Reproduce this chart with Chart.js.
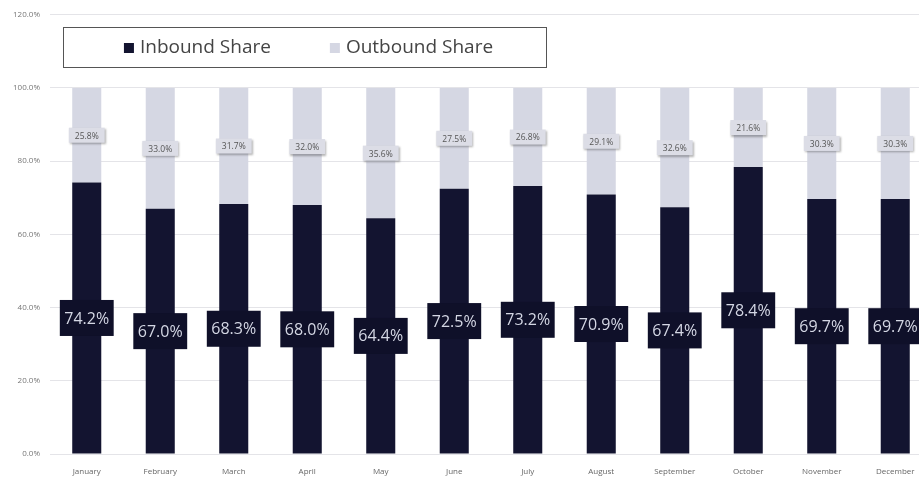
<!DOCTYPE html>
<html>
<head>
<meta charset="utf-8">
<script src="https://cdn.jsdelivr.net/npm/chart.js@4"></script>
<style>
  html, body { margin: 0; padding: 0; background: #fff; overflow: hidden; }
  #wrap { position: relative; width: 934px; height: 481px; }
</style>
</head>
<body>
<div id="wrap"><canvas id="chart"></canvas></div>
<script>
const months = ["January", "February", "March", "April", "May", "June",
  "July", "August", "September", "October", "November", "December"];
const inboundShare = [74.2, 67.0, 68.3, 68.0, 64.4, 72.5, 73.2, 70.9, 67.4, 78.4, 69.7, 69.7];
const outboundShare = [25.8, 33.0, 31.7, 32.0, 35.6, 27.5, 26.8, 29.1, 32.6, 21.6, 30.3, 30.3];
const yTicks = [0, 20, 40, 60, 80, 100, 120];

const NAVY = "#131430";
const LILAC = "#d5d7e3";
const FONT = "'Open Sans', 'Noto Sans', sans-serif";

// value boxes in the middle of each stacked segment
const segmentLabels = {
  id: "segmentLabels",
  afterDatasetsDraw(chart) {
    const ctx = chart.ctx;
    chart.data.datasets.forEach((ds, i) => {
      const meta = chart.getDatasetMeta(i);
      const dark = i === 0;
      meta.data.forEach((bar, j) => {
        const text = ds.data[j].toFixed(1) + "%";
        const cy = (bar.y + bar.base) / 2;
        ctx.save();
        ctx.font = (dark ? "16px " : "8.5px ") + FONT;
        const w = ctx.measureText(text).width + (dark ? 9 : 12);
        const h = dark ? 36 : 15;
        if (dark) {
          ctx.fillStyle = "#0f1029";
        } else {
          ctx.shadowColor = "rgba(0,0,0,0.3)";
          ctx.shadowBlur = 2;
          ctx.shadowOffsetX = 1;
          ctx.shadowOffsetY = 1.5;
          ctx.fillStyle = "#dcdde6";
        }
        ctx.fillRect(bar.x - w / 2, cy - h / 2, w, h);
        ctx.shadowColor = "transparent";
        ctx.fillStyle = dark ? "#d4d7e4" : "#555";
        ctx.textAlign = "center";
        ctx.textBaseline = "middle";
        ctx.fillText(text, bar.x, cy + 1);
        ctx.restore();
      });
    });
  }
};

// boxed legend sitting inside the plot, above the bars
const boxLegend = {
  id: "boxLegend",
  afterDraw(chart) {
    const ctx = chart.ctx;
    const box = { x: 63, y: 27, w: 483, h: 40 };
    ctx.save();
    ctx.fillStyle = "#fff";
    ctx.fillRect(box.x, box.y, box.w, box.h);
    ctx.strokeStyle = "#555";
    ctx.lineWidth = 1;
    ctx.strokeRect(box.x + 0.5, box.y + 0.5, box.w, box.h);

    ctx.font = "19px " + FONT;
    const items = chart.data.datasets.map(ds => ({
      label: ds.label, color: ds.backgroundColor, tw: ctx.measureText(ds.label).width
    }));
    const mark = 10, gap = 6, spacing = 59;
    let total = 0;
    items.forEach((it, k) => { total += mark + gap + it.tw + (k ? spacing : 0); });
    let x = box.x + box.w / 2 - total / 2 + 4;
    const cy = box.y + box.h / 2 + 1;
    ctx.textBaseline = "middle";
    items.forEach(it => {
      ctx.fillStyle = it.color;
      ctx.fillRect(x, cy - mark / 2, mark, mark);
      x += mark + gap;
      ctx.fillStyle = "#444";
      ctx.fillText(it.label, x, cy);
      x += it.tw + spacing;
    });
    ctx.restore();
  }
};

new Chart(document.getElementById("chart"), {
  type: "bar",
  data: {
    labels: months,
    datasets: [
      { label: "Inbound Share", data: inboundShare, backgroundColor: NAVY },
      { label: "Outbound Share", data: outboundShare, backgroundColor: LILAC }
    ]
  },
  options: {
    responsive: true,
    maintainAspectRatio: false,
    animation: false,
    events: [],
    layout: { padding: { top: 9, right: 2, left: 0, bottom: 0 } },
    datasets: { bar: { categoryPercentage: 1, barPercentage: 0.395 } },
    plugins: { legend: { display: false }, tooltip: { enabled: false } },
    scales: {
      x: {
        stacked: true,
        afterFit(scale) { scale.height = 27; },
        grid: { display: false },
        border: { display: false },
        ticks: { color: "#666", font: { family: FONT, size: 8 }, padding: 5, maxRotation: 0 }
      },
      y: {
        stacked: true,
        min: 0,
        max: 120,
        afterFit(scale) { scale.width = 50; },
        afterBuildTicks(scale) { scale.ticks = yTicks.map(v => ({ value: v })); },
        grid: { color: "#e4e4e8", drawTicks: false },
        border: { display: false },
        ticks: {
          color: "#777",
          font: { family: FONT, size: 8 },
          padding: 10,
          callback: v => v.toFixed(1) + "%"
        }
      }
    }
  },
  plugins: [segmentLabels, boxLegend]
});
</script>
</body>
</html>
